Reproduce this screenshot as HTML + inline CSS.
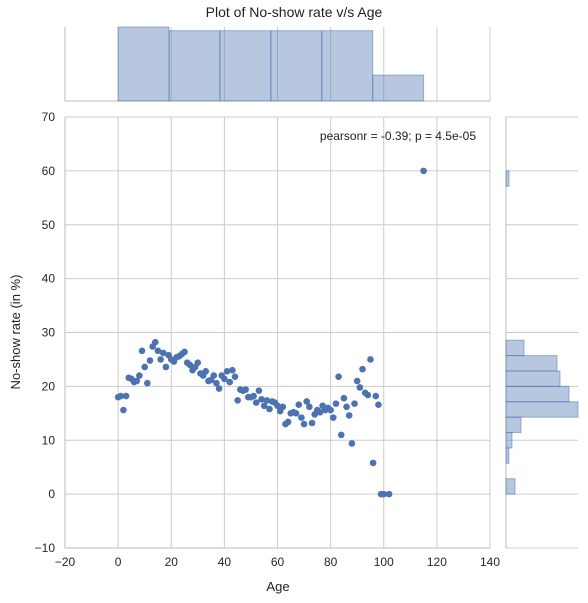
<!DOCTYPE html>
<html><head><meta charset="utf-8"><style>
body{margin:0;background:#fff;}
svg{display:block;font-family:"Liberation Sans",sans-serif;}
</style></head><body>
<svg id="c" width="588" height="603"></svg>
<script>
const ages=[0,1,2,3,4,5,6,7,8,9,10,11,12,13,14,15,16,17,18,19,20,21,22,23,24,25,26,27,28,29,30,31,32,33,34,35,36,37,38,39,40,41,42,43,44,45,46,47,48,49,50,51,52,53,54,55,56,57,58,59,60,61,62,63,64,65,66,67,68,69,70,71,72,73,74,75,76,77,78,79,80,81,82,83,84,85,86,87,88,89,90,91,92,93,94,95,96,97,98,99,100,102,115];
const rates=[18,18.2,15.6,18.2,21.6,21.4,20.8,21,22,26.6,23.6,20.6,24.8,27.4,28.2,26.6,25,26.2,23.6,25.8,25,24.6,25.4,25.6,26,26.4,24.4,24,23,23.6,24.4,22.4,22,22.8,21,21.2,22,20.6,19.6,22,21.4,22.8,20.8,23,21.8,17.4,19.4,19.2,19.4,18,18,18.2,17,19.2,17.6,16.4,17.4,15.8,17.2,17,16.4,15.4,16.2,13,13.4,15,15.2,15,16.6,14.2,13,17.2,16.2,13.2,14.8,15.6,15.2,16.4,15.6,16,15.6,14.2,16.8,21.8,11,17.8,16.2,14.6,9.4,16.8,21,19.8,23.2,18.8,18.4,25,5.8,18.2,16.6,0,0,0,60];
const ageBinCounts=[20,19,19,19,19,7];
const rateBinCounts=[3,0,1,2,5,24,21,18,17,6,0,0,0,0,0,0,0,0,0,0,1];
const xTicks=[-20,0,20,40,60,80,100,120,140];
const yTicks=[-10,0,10,20,30,40,50,60,70];

const svg=document.getElementById('c');const NS='http://www.w3.org/2000/svg';
function el(t,a,txt){const e=document.createElementNS(NS,t);for(const k in a)e.setAttribute(k,a[k]);if(txt!==undefined)e.textContent=txt;svg.appendChild(e);return e;}
const X=v=>65+(v+20)*425/160;
const Y=v=>548-(v+10)*431/80;
const grid='#cccccc';
xTicks.forEach(t=>{let g=el('line',{x1:X(t),x2:X(t),y1:117,y2:548,stroke:grid});
 let l=el('text',{x:X(t),y:566,'text-anchor':'middle','font-size':12,fill:'#262626'},t<0?'\u2212'+(-t):t);
 let g2=el('line',{x1:X(t),x2:X(t),y1:27,y2:101,stroke:grid});});
yTicks.forEach(t=>{let g=el('line',{x1:65,x2:490,y1:Y(t),y2:Y(t),stroke:grid});
 let l=el('text',{x:55,y:Y(t)+4,'text-anchor':'end','font-size':12,fill:'#262626'},t<0?'\u2212'+(-t):t);
 let g2=el('line',{x1:506,x2:578,y1:Y(t),y2:Y(t),stroke:grid});});
[[65,117,65,548],[65,548,490,548],[65,27,65,101],[65,101,490,101],[506,117,506,548]].forEach(s=>{let l=el('line',{x1:s[0],y1:s[1],x2:s[2],y2:s[3],stroke:'#bbbbbb'});});
const ageBinW=115/ageBinCounts.length, topMax=20;
ageBinCounts.forEach((c,i)=>{const h=c/topMax*74;let r=el('rect',{x:X(i*ageBinW),y:101-h,width:X((i+1)*ageBinW)-X(i*ageBinW),height:h,fill:'rgba(76,114,176,0.4)',stroke:'rgba(76,114,176,0.5)'});});
const rateBinW=60/21, rightMax=24;
rateBinCounts.forEach((c,i)=>{if(!c)return;const w=c/rightMax*72;let r=el('rect',{x:506,y:Y((i+1)*rateBinW),width:w,height:Y(i*rateBinW)-Y((i+1)*rateBinW),fill:'rgba(76,114,176,0.4)',stroke:'rgba(76,114,176,0.5)'});});
ages.forEach((a,i)=>{let p=el('circle',{cx:X(a),cy:Y(rates[i]),r:3.3,fill:'#4c72b0'});});
let t=el('text',{x:294,y:17,'font-size':14,'text-anchor':'middle',fill:'#222'},'Plot of No-show rate v/s Age');
t=el('text',{x:476,y:140,'font-size':12,'text-anchor':'end',fill:'#222'},'pearsonr = -0.39; p = 4.5e-05');
t=el('text',{x:278,y:591,'font-size':13,'text-anchor':'middle',fill:'#222'},'Age');
t=el('text',{x:20,y:332,'font-size':13,'text-anchor':'middle',fill:'#222',transform:'rotate(-90 20 332)'},'No-show rate (in %)');
</script>
</body></html>
